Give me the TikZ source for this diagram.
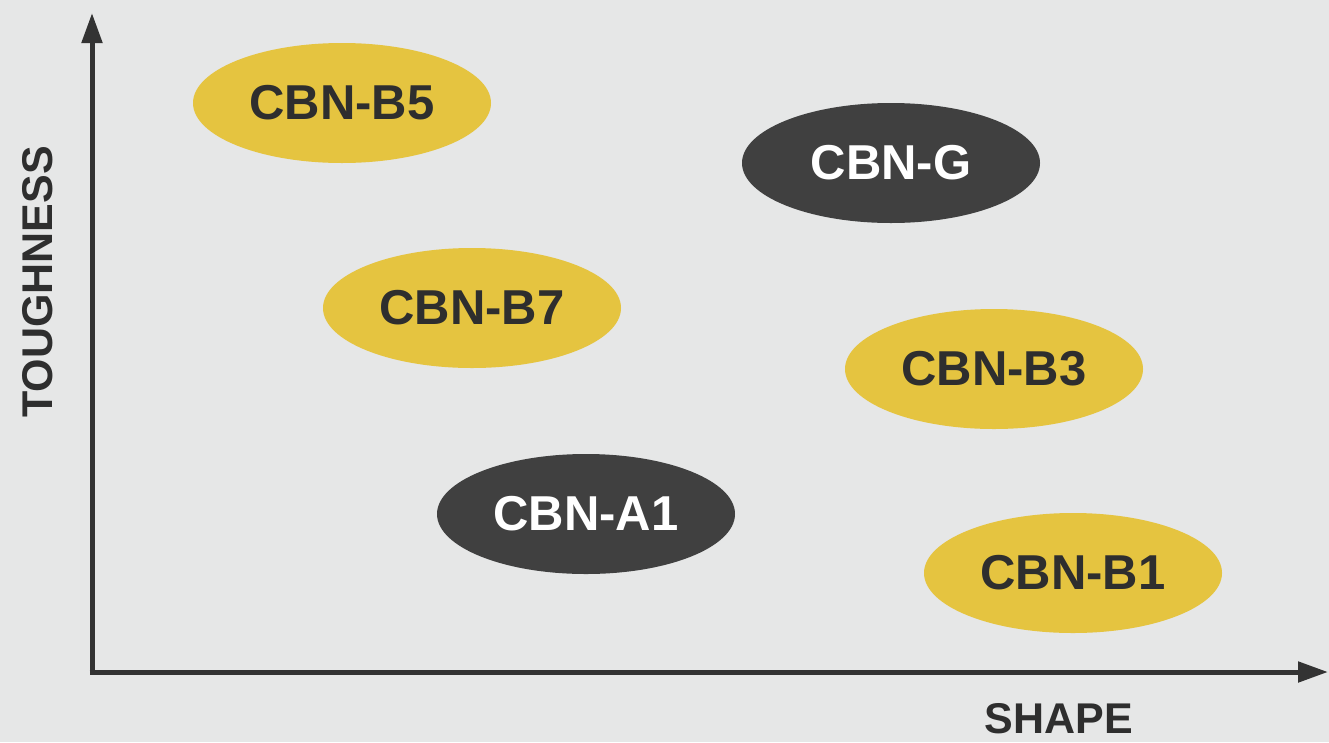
\documentclass[tikz,border=0pt]{standalone}
\usepackage{fontspec}
\setmainfont{Liberation Sans}
\usetikzlibrary{arrows.meta,shapes.geometric}
\definecolor{bgc}{HTML}{E6E7E7}
\definecolor{ylw}{HTML}{E5C440}
\definecolor{drk}{HTML}{404040}
\definecolor{axc}{HTML}{333333}
\definecolor{txd}{HTML}{2E2E2E}
\tikzset{
  blob/.style={ellipse, minimum width=298pt, minimum height=120pt, inner sep=0pt,
    font=\fontsize{49}{49}\selectfont\bfseries},
  yblob/.style={blob, fill=ylw, text=txd},
  dblob/.style={blob, fill=drk, text=white},
  axis/.style={draw=axc, line width=5pt, -{Triangle[length=30pt,width=20pt]}},
  axlabel/.style={text=txd, font=\fontsize{43}{43}\selectfont\bfseries, inner sep=0pt}
}
\begin{document}
\begin{tikzpicture}[x=1pt,y=-1pt]
\fill[bgc] (0,0) rectangle (1329,742);
\useasboundingbox (0,0) rectangle (1329,742);
\coordinate (o) at (92,672);
\coordinate (ytip) at (92,13);
\coordinate (xtip) at (1328,672);
\draw[axis] (92,674.5) -- (ytip);
\draw[axis] (89.5,672) -- (xtip);
\node[yblob] (b5) at (342,103) {CBN-B5};
\node[dblob] (g) at (891,163) {CBN-G};
\node[yblob] (b7) at (472,308) {CBN-B7};
\node[yblob] (b3) at (994,369) {CBN-B3};
\node[dblob] (a1) at (586,514) {CBN-A1};
\node[yblob] (b1) at (1073,573) {CBN-B1};
\node[axlabel, rotate=90] (ty) at (38,282) {TOUGHNESS};
\node[axlabel] (sx) at (1059,719) {SHAPE};
\end{tikzpicture}
\end{document}
